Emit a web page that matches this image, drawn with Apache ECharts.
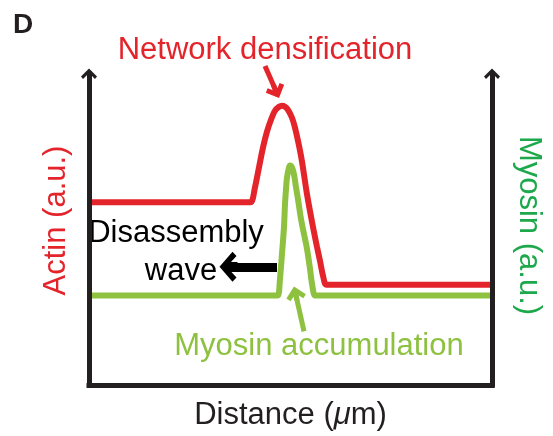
<!DOCTYPE html>
<html>
<head>
<meta charset="utf-8">
<script src="https://cdn.jsdelivr.net/npm/echarts@6/dist/echarts.min.js"></script>
<style>html,body{margin:0;padding:0;background:#fff}#c{width:553px;height:436px}</style>
</head>
<body>
<div id="c"></div>
<script>
// Schematic profiles (arbitrary units)
const actinX  = [3,158,162,166,170,174,178,182,186,190,193,196,199,203,206,210,213,218,224,228,231,234,237,241,401];
const actinY  = [184,184,184,199,219,239,255,267,276,280,281,280,277,269,259,241,225,192,159,139,125,110,101,101,101];
const myosinX = [3,186,189,191,193,195,196,197,198,200,201,203,205,207,209,212,215,218,221,223,226,230,401];
const myosinY = [90,90,90,107,132,159,182,197,209,219,221,219,212,199,187,167,152,137,117,102,90,90,90];

const RED = '#e4242b', GREEN = '#8dc13f', DGREEN = '#1ea84c', BLACK = '#231f20';
const FONT = '"Liberation Sans", Arial, Helvetica, sans-serif';
const axisArrow = 'path://M8,0 L16,8 L14,10.5 L9.5,6 L9.5,11 L6.5,11 L6.5,6 L2,10.5 L0,8 Z';
const headThin = 'path://M10,0 L20,10 L16.5,13.5 L12.5,9.5 L12.5,14 L7.5,14 L7.5,9.5 L3.5,13.5 L0,10 Z';
const headThick = 'path://M14,0 L28,13 L24,17 L18.5,11.5 L18.5,18 L9.5,18 L9.5,11.5 L4,17 L0,13 Z';

const chart = echarts.init(document.getElementById('c'), null, {renderer: 'canvas'});
const yAxisBase = {
  type: 'value', min: 0, max: 313,
  splitLine: {show: false}, axisTick: {show: false}, axisLabel: {show: false},
  axisLine: {show: true, symbol: ['none', axisArrow], symbolSize: [16, 11],
    lineStyle: {color: BLACK, width: 5, cap: 'square'}},
  nameLocation: 'middle'
};
chart.setOption({
  animation: false,
  grid: {left: 89, right: 61, top: 74, bottom: 49, containLabel: false},
  xAxis: {
    type: 'value', min: 0, max: 403,
    splitLine: {show: false}, axisTick: {show: false}, axisLabel: {show: false},
    axisLine: {show: true, onZero: false, lineStyle: {color: BLACK, width: 5, cap: 'square'}},
    name: 'Distance ({i|μ}m)', nameLocation: 'middle', nameGap: 15,
    nameTextStyle: {color: BLACK, fontSize: 31, fontFamily: FONT,
      rich: {i: {fontStyle: 'italic', fontSize: 31, fontFamily: FONT, color: BLACK}}}
  },
  yAxis: [
    Object.assign({}, yAxisBase, {position: 'left', name: 'Actin (a.u.)', nameGap: 17,
      nameTextStyle: {color: RED, fontSize: 31, fontFamily: FONT, padding: [0, 0, 0, 18]}}),
    Object.assign({}, yAxisBase, {position: 'right', name: 'Myosin (a.u.)', nameGap: 21, nameRotate: -90,
      nameTextStyle: {color: DGREEN, fontSize: 31, fontFamily: FONT, padding: [0, 8, 0, 0]}})
  ],
  series: [
    {
      name: 'Actin', type: 'line', yAxisIndex: 0, showSymbol: false, symbol: 'none',
      smooth: 0.3, data: actinX.map((x, i) => [x, actinY[i]]),
      lineStyle: {color: RED, width: 6}, z: 3,
      markLine: {
        silent: true, label: {show: false},
        data: [[{x: 265, y: 66, symbol: 'none', lineStyle: {color: RED, width: 5, type: 'solid'}},
                {coord: [187.2, 295.4], symbol: headThin, symbolSize: [20, 14]}]]
      }
    },
    {
      name: 'Myosin', type: 'line', yAxisIndex: 1, showSymbol: false, symbol: 'none',
      smooth: 0.3, data: myosinX.map((x, i) => [x, myosinY[i]]),
      lineStyle: {color: GREEN, width: 6}, z: 4,
      markLine: {
        silent: true, label: {show: false},
        data: [
          [{coord: [215, 54], symbol: 'none', lineStyle: {color: GREEN, width: 5, type: 'solid'}},
           {coord: [206.5, 92.2], symbol: headThin, symbolSize: [20, 14]}],
          [{coord: [188, 119], symbol: 'none', lineStyle: {color: '#000', width: 9, type: 'solid'}},
           {coord: [139.5, 119], symbol: headThick, symbolSize: [30, 18]}]
        ]
      }
    }
  ],
  graphic: [
    {type: 'text', left: 13, top: 11, style: {text: 'D', font: 'bold 28px ' + FONT, fill: BLACK}},
    {type: 'text', x: 265, y: 50, style: {text: 'Network densification', font: '31px ' + FONT, fill: RED, textAlign: 'center', textVerticalAlign: 'middle'}},
    {type: 'text', x: 176, y: 233, style: {text: 'Disassembly', font: '31px ' + FONT, fill: '#000', textAlign: 'center', textVerticalAlign: 'middle'}},
    {type: 'text', x: 181, y: 271, style: {text: 'wave', font: '31px ' + FONT, fill: '#000', textAlign: 'center', textVerticalAlign: 'middle'}},
    {type: 'text', x: 319, y: 346, style: {text: 'Myosin accumulation', font: '31px ' + FONT, fill: GREEN, textAlign: 'center', textVerticalAlign: 'middle'}}
  ]
});
</script>
</body>
</html>
